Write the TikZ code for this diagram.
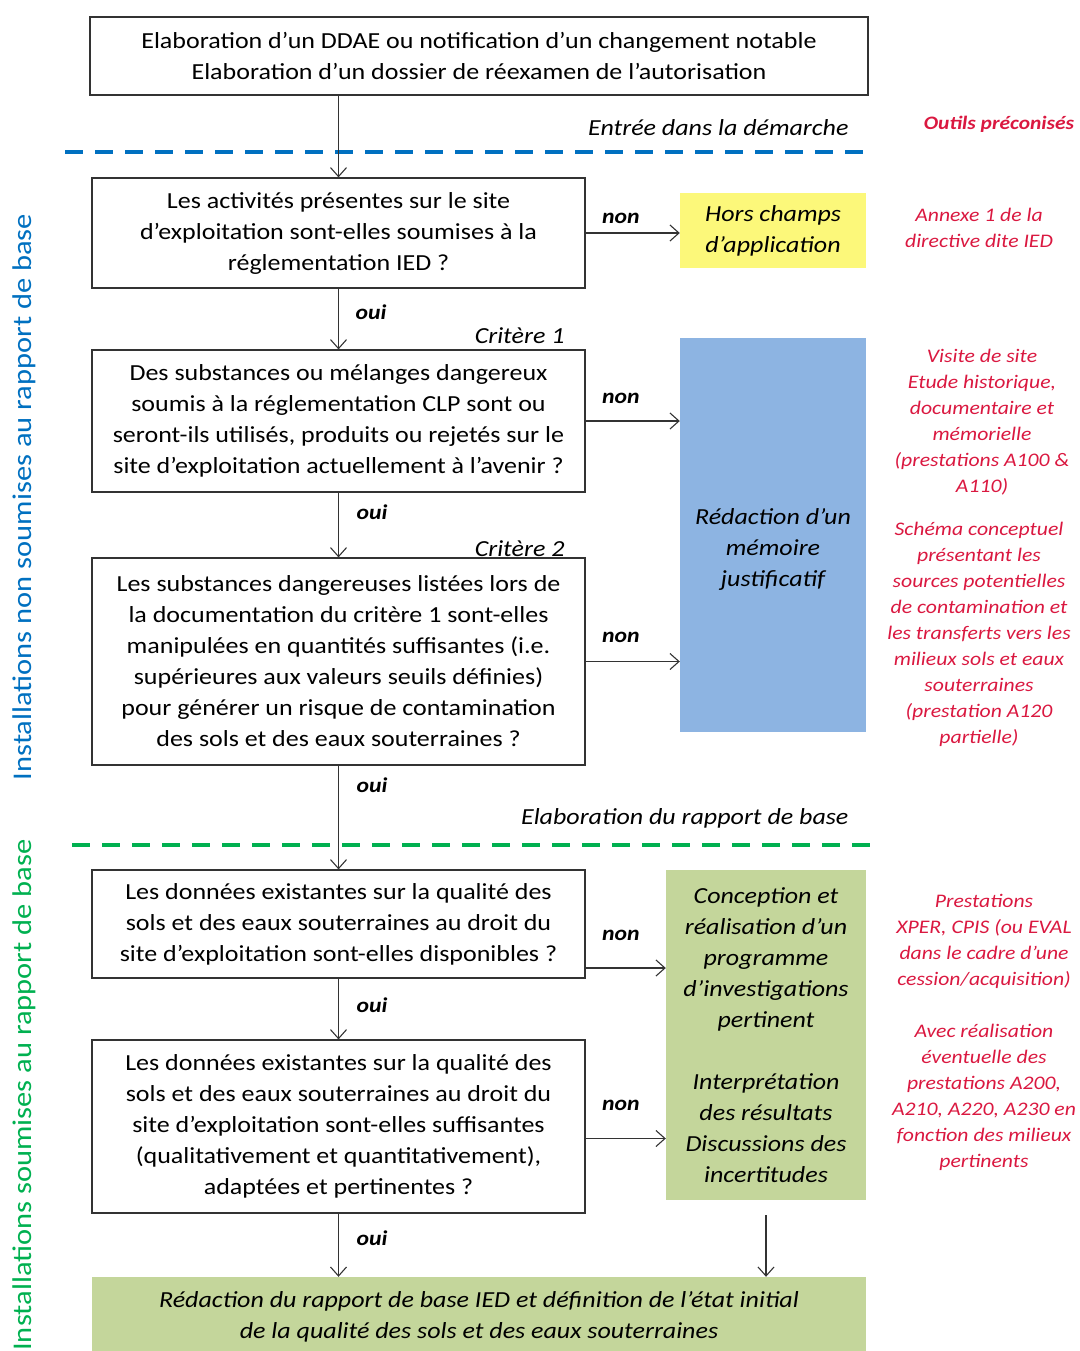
\documentclass[tikz,border=0pt]{standalone}
\usepackage{fontspec}
\setmainfont{Carlito}[FakeStretch=1.13]
\usetikzlibrary{arrows.meta, positioning, calc}
\definecolor{outilred}{RGB}{218, 24, 64}
\definecolor{zoneblue}{RGB}{0, 112, 192}
\definecolor{zonegreen}{RGB}{0, 176, 80}
\definecolor{horsyellow}{RGB}{252, 248, 122}
\definecolor{memblue}{RGB}{141, 180, 226}
\definecolor{rapgreen}{RGB}{196, 214, 155}

\begin{document}
\begin{tikzpicture}[x=1pt, y=-1pt,
  question/.style={draw=black!80, line width=1.2pt, align=center, inner sep=0pt,
    minimum width=493pt, font=\fontsize{23}{31}\selectfont},
  colbox/.style={inner sep=0pt, align=center, font=\fontsize{23}{31}\selectfont\itshape},
  outil/.style={text=outilred, align=center, font=\fontsize{19.2}{26}\selectfont\itshape},
  answer/.style={font=\fontsize{21}{24}\selectfont\bfseries\itshape},
  stage/.style={anchor=east, font=\fontsize{23}{26}\selectfont\itshape},
  zone/.style={rotate=90, font=\fontsize{27}{30}\selectfont},
  flow/.style={draw=black!80, line width=1.1pt, -{Straight Barb[length=9pt, width=16pt, line width=1.1pt]}},
  limit/.style={line width=4pt, dash pattern=on 18pt off 12pt}]
  \useasboundingbox (0,0) rectangle (1079,1351);

  \node[question, minimum width=778pt, minimum height=78pt] (top) at (479,56)
    {Elaboration d'un DDAE ou notification d'un changement notable\\Elaboration d'un dossier de réexamen de l'autorisation};

  \node[stage] (entree) at (852,128) {Entrée dans la démarche};
  \node[text=outilred, font=\fontsize{19}{22}\selectfont\bfseries\itshape] (outils) at (999,124) {Outils préconisés};
  \coordinate (b1) at (65,152);
  \coordinate (b2) at (870,152);
  \draw[limit, zoneblue] (b1) -- (b2);

  \node[question, minimum height=110pt] (box1) at (338.5,233)
    {Les activités présentes sur le site\\d'exploitation sont-elles soumises à la\\réglementation IED ?};
  \node[colbox, fill=horsyellow, minimum width=186pt, minimum height=75pt] (hors) at (773,230.5)
    {Hors champs\\d'application};
  \node[outil] (note1) at (979,227.5) {Annexe 1 de la\\directive dite IED};

  \node[stage] (crit1) at (568,336) {Critère 1};
  \node[question, minimum height=142pt] (box2) at (338.5,421)
    {Des substances ou mélanges dangereux\\soumis à la réglementation CLP sont ou\\seront-ils utilisés, produits ou rejetés sur le\\site d'exploitation actuellement à l'avenir ?};

  \node[stage] (crit2) at (568,549) {Critère 2};
  \node[question, minimum height=207pt] (box3) at (338.5,661.5)
    {Les substances dangereuses listées lors de\\la documentation du critère 1 sont-elles\\manipulées en quantités suffisantes (i.e.\\supérieures aux valeurs seuils définies)\\pour générer un risque de contamination\\des sols et des eaux souterraines ?};

  \node[fill=memblue, minimum width=186pt, minimum height=394pt,
    label={[colbox, yshift=-14pt]center:Rédaction d'un\\mémoire\\justificatif}] (memo) at (773,535) {};
  \node[outil] (note2) at (982,422)
    {Visite de site\\Etude historique,\\documentaire et\\mémorielle\\(prestations A100 \&\\A110)};
  \node[outil] (note3) at (979,634.5)
    {Schéma conceptuel\\présentant les\\sources potentielles\\de contamination et\\les transferts vers les\\milieux sols et eaux\\souterraines\\(prestation A120\\partielle)};

  \node[stage] (elab) at (852,818) {Elaboration du rapport de base};
  \coordinate (g1) at (72,845);
  \coordinate (g2) at (870,845);
  \draw[limit, zonegreen] (g1) -- (g2);

  \node[question, minimum height=108pt] (box4) at (338.5,924)
    {Les données existantes sur la qualité des\\sols et des eaux souterraines au droit du\\site d'exploitation sont-elles disponibles ?};
  \node[question, minimum height=173pt] (box5) at (338.5,1126.5)
    {Les données existantes sur la qualité des\\sols et des eaux souterraines au droit du\\site d'exploitation sont-elles suffisantes\\(qualitativement et quantitativement),\\adaptées et pertinentes ?};
  \node[colbox, fill=rapgreen, minimum width=200pt, minimum height=330pt] (invest) at (766,1035)
    {Conception et\\réalisation d'un\\programme\\d'investigations\\pertinent\\[31pt]Interprétation\\des résultats\\Discussions des\\incertitudes};
  \node[outil] (note4) at (984,941)
    {Prestations\\XPER, CPIS (ou EVAL\\dans le cadre d'une\\cession/acquisition)};
  \node[outil] (note5) at (984,1097.5)
    {Avec réalisation\\éventuelle des\\prestations A200,\\A210, A220, A230 en\\fonction des milieux\\pertinents};

  \node[colbox, fill=rapgreen, minimum width=774pt, minimum height=80pt] (final) at (479,1317)
    {Rédaction du rapport de base IED et définition de l'état initial\\de la qualité des sols et des eaux souterraines};

  \node[zone, text=zoneblue] (zone1) at (24,497) {Installations non soumises au rapport de base};
  \node[zone, text=zonegreen] (zone2) at (24,1095) {Installations soumises au rapport de base};

  \draw[flow] (top.south -| box1.north) -- (box1.north);
  \draw[flow] (box1.south) -- (box2.north);
  \draw[flow] (box2.south) -- (box3.north);
  \draw[flow] (box3.south) -- (box4.north);
  \draw[flow] (box4.south) -- (box5.north);
  \draw[flow] (box5.south) -- (box5.south |- final.north);
  \draw[flow] (box1.east) -- (box1.east -| hors.west);
  \draw[flow] (box2.east) -- (box2.east -| memo.west);
  \draw[flow] (box3.east) -- (box3.east -| memo.west);
  \coordinate (n4) at ([yshift=-44pt]box4.east);
  \coordinate (n5) at ([yshift=-12pt]box5.east);
  \draw[flow] (n4) -- (n4 -| invest.west);
  \draw[flow] (n5) -- (n5 -| invest.west);
  \coordinate (f1) at ([yshift=-15pt]invest.south);
  \draw[flow] (f1) -- (f1 |- final.north);

  \node[answer] (non1) at (621,218) {non};
  \node[answer] (non2) at (621,398) {non};
  \node[answer] (non3) at (621,637) {non};
  \node[answer] (non4) at (621,935) {non};
  \node[answer] (non5) at (621,1105) {non};
  \node[answer] (oui1) at (371,312) {oui};
  \node[answer] (oui2) at (372,512) {oui};
  \node[answer] (oui3) at (372,785) {oui};
  \node[answer] (oui4) at (372,1005) {oui};
  \node[answer] (oui5) at (372,1238) {oui};
\end{tikzpicture}
\end{document}
